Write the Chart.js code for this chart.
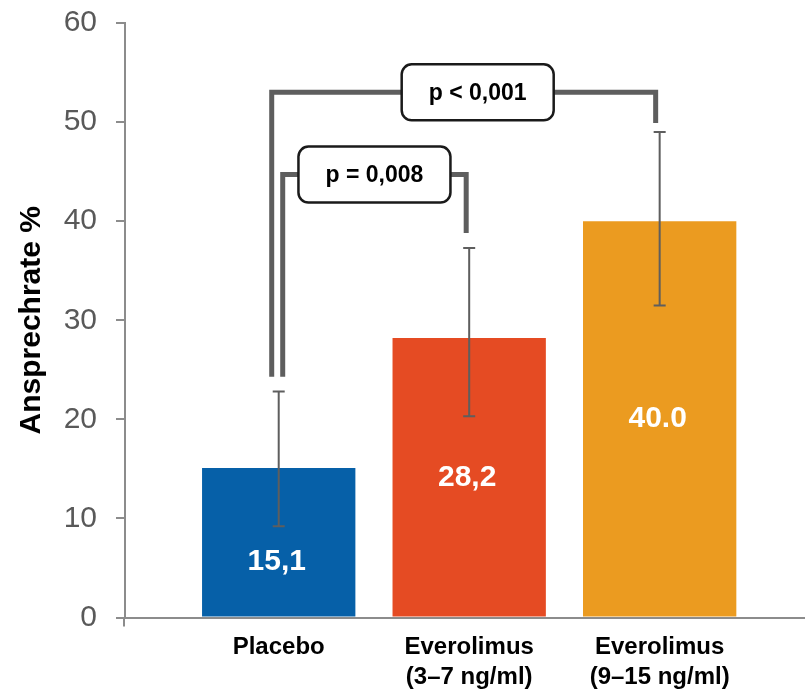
<!DOCTYPE html>
<html>
<head>
<meta charset="utf-8">
<script src="https://cdn.jsdelivr.net/npm/chart.js@4.4.0/dist/chart.umd.min.js"></script>
<style>
  body { margin: 0; background: #fff; }
  #wrap { width: 805px; height: 691px; }
</style>
</head>
<body>
<div id="wrap"><canvas id="response-chart"></canvas></div>
<script>
const categories = [
  'Placebo',
  ['Everolimus', '(3–7 ng/ml)'],
  ['Everolimus', '(9–15 ng/ml)']
]
const responseRates = [15.1, 28.2, 40.0]
const valueLabels = ['15,1', '28,2', '40.0']
const errorLow = [9.2, 20.3, 31.5]
const errorHigh = [22.8, 37.3, 49.0]
const yTicks = [0, 10, 20, 30, 40, 50, 60]

// significance brackets: category indices, heights of the top line and the two legs
const bracketFrom = [0, 0]
const bracketTo = [2, 1]
const bracketTop = [53.0, 44.7]
const bracketLeftEnd = [24.3, 24.3]
const bracketRightEnd = [49.9, 38.8]
const bracketText = ['p < 0,001', 'p = 0,008']

const FONT = "'Liberation Sans', Arial, sans-serif"
const AXIS_GREY = '#8c8c8c'
const LINE_GREY = '#5e5e5e'

const annotations = {
  id: 'annotations',
  afterDatasetsDraw (chart) {
    const { ctx, scales: { x, y } } = chart
    const meta = chart.getDatasetMeta(0)

    // error bars
    ctx.save()
    ctx.strokeStyle = LINE_GREY
    ctx.lineWidth = 2
    errorLow.forEach((lo, i) => {
      const px = x.getPixelForValue(i)
      const top = y.getPixelForValue(errorHigh[i])
      const bot = y.getPixelForValue(lo)
      ctx.beginPath()
      ctx.moveTo(px, top)
      ctx.lineTo(px, bot)
      ctx.moveTo(px - 6, top)
      ctx.lineTo(px + 6, top)
      ctx.moveTo(px - 6, bot)
      ctx.lineTo(px + 6, bot)
      ctx.stroke()
    })
    ctx.restore()

    // value labels inside the bars
    ctx.save()
    ctx.fillStyle = '#ffffff'
    ctx.font = 'bold 30px ' + FONT
    ctx.textAlign = 'center'
    ctx.textBaseline = 'middle'
    meta.data.forEach((bar, i) => {
      const mid = (bar.y + bar.base) / 2
      const dy = i === 0 ? 20 : 0 // the short bar has its label sitting lower
      ctx.fillText(valueLabels[i], bar.x - 2, mid + dy)
    })
    ctx.restore()

    // brackets with p-value boxes
    ctx.save()
    bracketText.forEach((text, i) => {
      const xl = x.getPixelForValue(bracketFrom[i]) + (i === 0 ? -7 : 4)
      const xr = x.getPixelForValue(bracketTo[i]) - (i === 0 ? 4 : 3)
      const yt = y.getPixelForValue(bracketTop[i])
      ctx.strokeStyle = LINE_GREY
      ctx.lineWidth = 5
      ctx.lineJoin = 'miter'
      ctx.beginPath()
      ctx.moveTo(xl, y.getPixelForValue(bracketLeftEnd[i]))
      ctx.lineTo(xl, yt)
      ctx.lineTo(xr, yt)
      ctx.lineTo(xr, y.getPixelForValue(bracketRightEnd[i]))
      ctx.stroke()

      const cx = (xl + xr) / 2 + (i === 0 ? 14 : 0)
      const w = 152
      const h = 56
      ctx.beginPath()
      ctx.roundRect(cx - w / 2, yt - h / 2, w, h, 10)
      ctx.fillStyle = '#ffffff'
      ctx.fill()
      ctx.lineWidth = 2.5
      ctx.strokeStyle = '#1a1a1a'
      ctx.stroke()
      ctx.fillStyle = '#000000'
      ctx.font = 'bold 23px ' + FONT
      ctx.textAlign = 'center'
      ctx.textBaseline = 'middle'
      ctx.fillText(text, cx, yt + 1)
    })
    ctx.restore()
  },
  afterDraw (chart) {
    // small stub where the y axis runs past the x axis
    const { ctx, scales: { x, y } } = chart
    ctx.save()
    ctx.strokeStyle = AXIS_GREY
    ctx.lineWidth = 2
    ctx.beginPath()
    ctx.moveTo(y.right - 1, x.top)
    ctx.lineTo(y.right - 1, x.top + 9)
    ctx.stroke()
    ctx.restore()
  }
}

new Chart(document.getElementById('response-chart'), {
  type: 'bar',
  data: {
    datasets: [{
      data: responseRates.map((v, i) => ({ x: i, y: v })),
      backgroundColor: ['#0660a8', '#e54b23', '#eb9b20'],
      categoryPercentage: 1,
      barPercentage: 0.805
    }]
  },
  options: {
    responsive: true,
    maintainAspectRatio: false,
    animation: false,
    layout: { padding: { top: 23, right: 0, bottom: 0, left: 0 } },
    plugins: {
      legend: { display: false },
      tooltip: { enabled: false }
    },
    scales: {
      x: {
        type: 'linear',
        offset: false,
        min: -0.807,
        max: 2.763,
        afterBuildTicks: s => { s.ticks = categories.map((c, i) => ({ value: i })) },
        afterFit: s => { s.height = 73.5 },
        grid: { display: false, drawTicks: false },
        border: { color: AXIS_GREY, width: 2 },
        ticks: {
          autoSkip: false,
          maxRotation: 0,
          padding: 14.5,
          color: '#000000',
          font: { family: FONT, size: 24, weight: 'bold', lineHeight: 1.25 },
          callback: v => categories[v]
        }
      },
      y: {
        min: 0,
        max: 60,
        afterBuildTicks: s => { s.ticks = yTicks.map(v => ({ value: v })) },
        afterFit: s => {
          s.width = 125
          s.paddingTop = 0
          s.paddingBottom = 0
        },
        grid: { drawOnChartArea: false, tickLength: 9, color: AXIS_GREY, lineWidth: 2 },
        border: { color: AXIS_GREY, width: 2 },
        ticks: {
          padding: 19,
          color: '#595959',
          font: { family: FONT, size: 30 }
        },
        title: {
          display: true,
          text: 'Ansprechrate %',
          color: '#000000',
          padding: { top: 14, bottom: 0 },
          font: { family: FONT, size: 30, weight: 'bold', lineHeight: 1.2 }
        }
      }
    }
  },
  plugins: [annotations]
})
</script>
</body>
</html>
